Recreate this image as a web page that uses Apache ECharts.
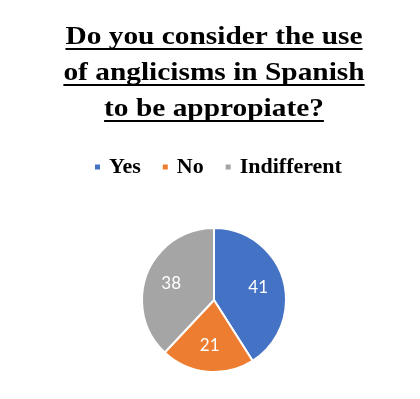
<!DOCTYPE html>
<html>
<head>
<meta charset="utf-8">
<script src="https://cdn.jsdelivr.net/npm/echarts@6/dist/echarts.min.js"></script>
<style>
html,body{margin:0;padding:0;background:#fff;}
#chart{width:420px;height:399px;}
</style>
</head>
<body>
<div id="chart"></div>
<script>
const titleLines = ['Do you consider the use', 'of anglicisms in Spanish', 'to be appropiate?'];
const categories = ['Yes', 'No', 'Indifferent'];
const values = [41, 21, 38];
const colors = ['#4472C4', '#ED7D31', '#A5A5A5'];

const chart = echarts.init(document.getElementById('chart'), null, {renderer: 'canvas'});

const titleFont = 'bold 26px "Liberation Serif"';
const ctx = document.createElement('canvas').getContext('2d');
ctx.font = titleFont;

const cx = 214;
const stretch = 1.13;
const graphics = [];
titleLines.forEach((t, i) => {
  const baseline = 45 + i * 36;
  const w = ctx.measureText(t).width * stretch;
  graphics.push({
    type: 'text',
    x: cx, y: baseline - 21,
    scaleX: stretch,
    style: {
      text: t,
      x: 0, y: 0,
      align: 'center',
      verticalAlign: 'top',
      font: titleFont,
      fill: '#000'
    }
  });
  graphics.push({
    type: 'rect',
    shape: {x: cx - w / 2, y: baseline + 3, width: w, height: 2},
    style: {fill: '#000'}
  });
});

const pieData = categories.map((c, i) => ({name: c, value: values[i], itemStyle: {color: colors[i]}}));

chart.setOption({
  backgroundColor: '#fff',
  animation: false,
  graphic: graphics,
  legend: {
    data: categories.map((c, i) => ({name: c, itemStyle: {color: colors[i]}})),
    top: 151,
    left: 88,
    icon: 'rect',
    itemWidth: 7,
    itemHeight: 7,
    itemGap: 20,
    selectedMode: false,
    textStyle: {
      fontFamily: 'Liberation Serif',
      fontWeight: 'bold',
      fontSize: 22,
      color: '#000',
      padding: [0, 0, 16, 3]
    }
  },
  series: [
    {
      type: 'pie',
      center: [214, 300],
      radius: 72,
      startAngle: 90,
      clockwise: true,
      label: {show: false},
      labelLine: {show: false},
      itemStyle: {borderColor: '#fff', borderWidth: 2},
      emphasis: {disabled: true},
      data: pieData
    },
    {
      type: 'pie',
      center: [214, 300],
      radius: [14, 72],
      startAngle: 90,
      clockwise: true,
      silent: true,
      label: {
        show: true,
        position: 'inside',
        formatter: '{c}',
        color: '#fff',
        fontFamily: 'Lato',
        fontSize: 17
      },
      labelLine: {show: false},
      itemStyle: {color: 'rgba(0,0,0,0)'},
      emphasis: {disabled: true},
      data: categories.map((c, i) => ({name: c, value: values[i]}))
    }
  ]
});
</script>
</body>
</html>
